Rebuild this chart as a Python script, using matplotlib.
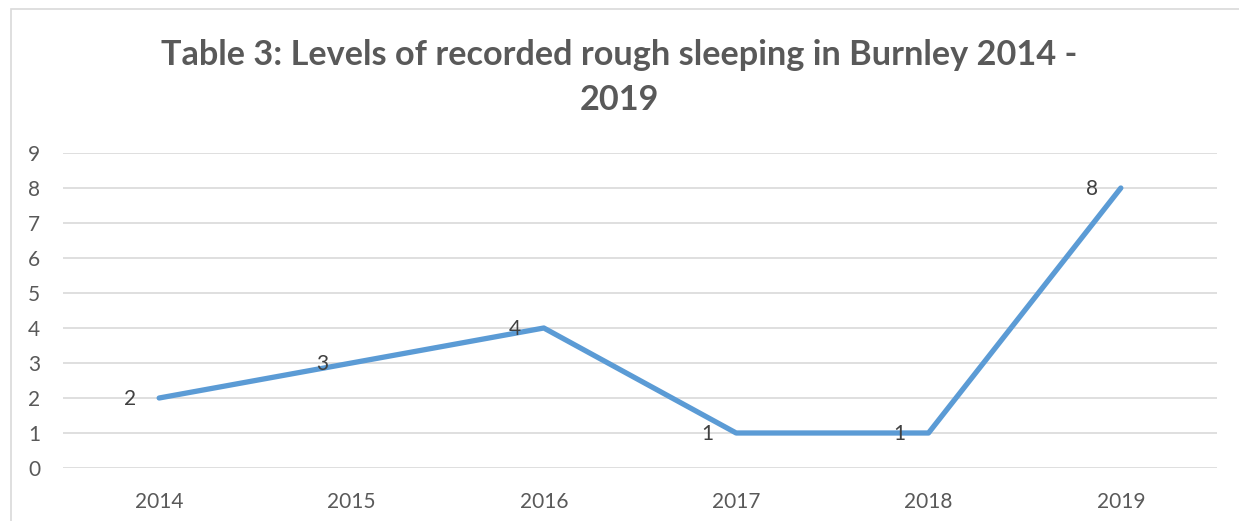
import matplotlib.pyplot as plt
from matplotlib.patches import Rectangle

years = ['2014', '2015', '2016', '2017', '2018', '2019']
sleepers = [2, 3, 4, 1, 1, 8]
y_ticks = list(range(0, 10))

plt.rcParams['font.family'] = ['Lato', 'DejaVu Sans']
text_grey = '#595959'

fig = plt.figure(figsize=(12.39, 5.21), dpi=100)
ax = fig.add_axes([63 / 1239, 1 - 468 / 521, (1217 - 63) / 1239, (468 - 153) / 521])

# chart frame, like the Excel border
fig.patches.append(Rectangle((11 / 1239, -0.1), 1.2, 1.1 - 9 / 521, transform=fig.transFigure,
                             fill=False, edgecolor='#D9D9D9', linewidth=1.2))

x = list(range(len(years)))
ax.plot(x, sleepers, color='#5B9BD5', linewidth=3.8, solid_capstyle='round', zorder=3)

for xi, v in zip(x, sleepers):
  ax.annotate(str(v), (xi, v), xytext=(-23, -1), textcoords='offset pixels',
              ha='right', va='center', fontsize=15, color='#404040', zorder=4)

ax.set_xlim(-0.5, len(years) - 0.5)
ax.set_ylim(0, 9)
ax.set_xticks(x)
ax.set_xticklabels(years)
ax.set_yticks(y_ticks)
ax.grid(axis='y', color='#D9D9D9', linewidth=1.2)
ax.set_axisbelow(True)
for s in ax.spines.values():
  s.set_visible(False)
ax.tick_params(axis='both', length=0, labelsize=15, labelcolor=text_grey)
ax.tick_params(axis='y', pad=16.5)
ax.tick_params(axis='x', pad=17)

fig.text(0.5, 1 - 55 / 521, 'Table 3: Levels of recorded rough sleeping in Burnley 2014 -',
         ha='center', va='center', fontsize=24.7, fontweight='bold', color=text_grey)
fig.text(0.5, 1 - 100 / 521, '2019', ha='center', va='center', fontsize=24.7,
         fontweight='bold', color=text_grey)

fig.savefig('out.png', dpi=100)
